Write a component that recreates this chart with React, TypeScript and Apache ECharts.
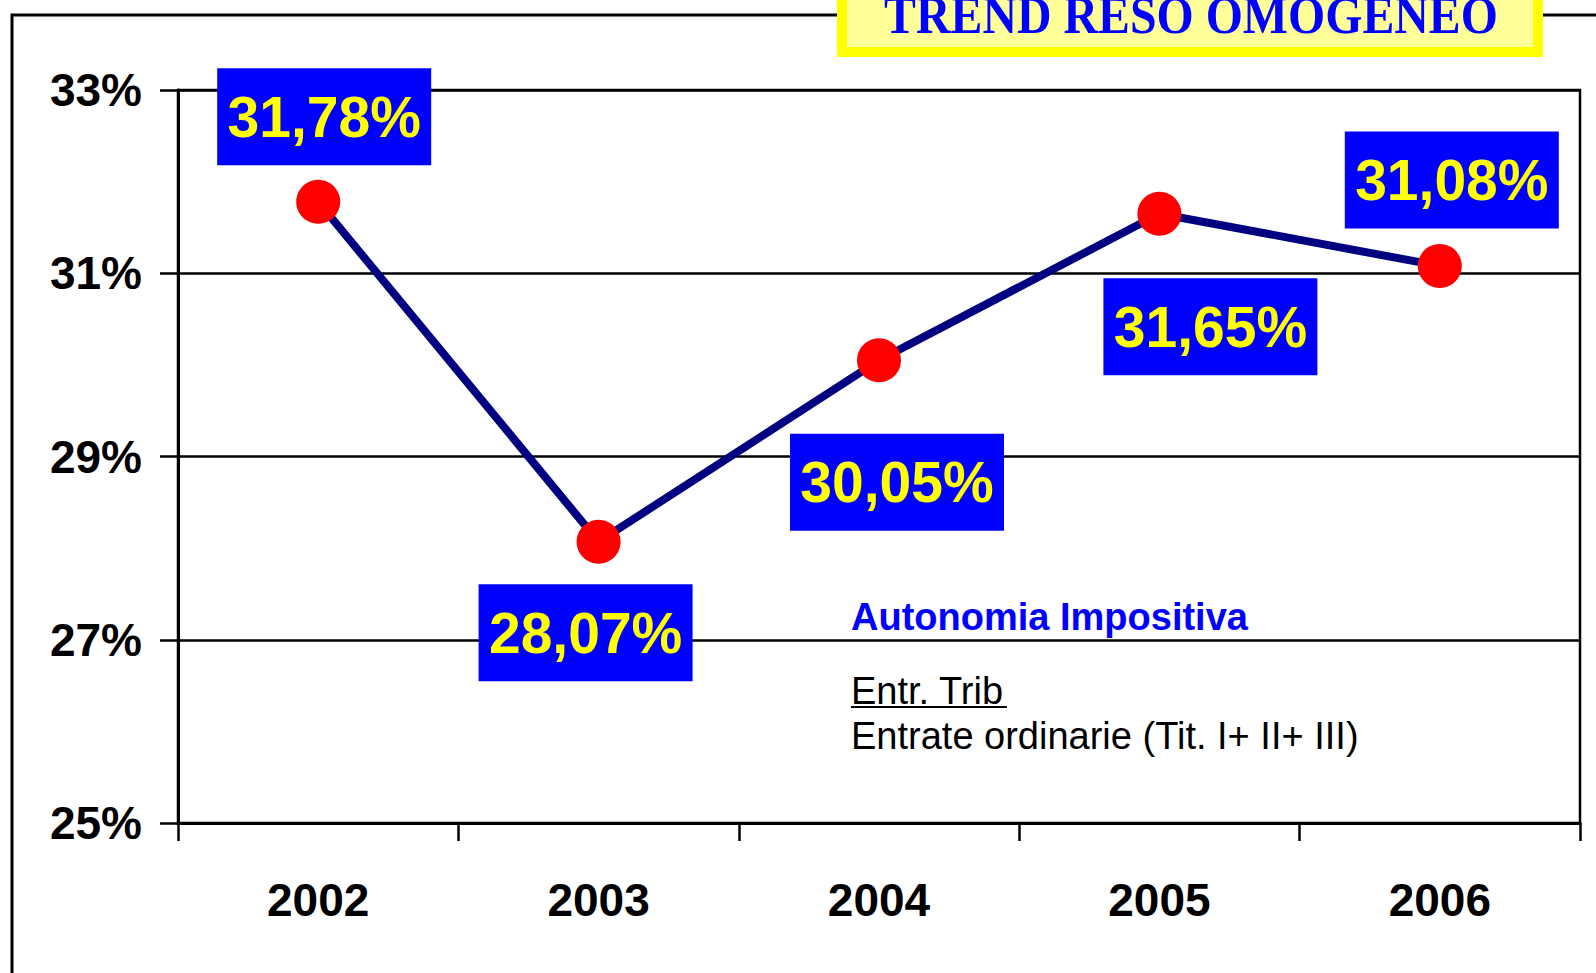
import React, { useEffect, useRef } from "react";
import * as echarts from "echarts";

const years = ["2002", "2003", "2004", "2005", "2006"];
const autonomia = [31.78, 28.07, 30.05, 31.65, 31.08];
const yTickLabels = [25, 27, 29, 31, 33];
const labelOffsets: [number, number][] = [
  [6, -85],
  [-13, 91],
  [18, 122],
  [51, 113],
  [12, -86],
];
const titleText = "TREND RESO OMOGENEO";
const noteTitle = "Autonomia Impositiva";
const noteNumerator = "Entr. Trib";
const noteDenominator = "Entrate ordinarie (Tit. I+ II+ III)";

const SANS = "'Liberation Sans', Arial, Helvetica, sans-serif";
const SERIF = "'Liberation Serif', 'Times New Roman', serif";

export default function App() {
  const ref = useRef<HTMLDivElement>(null);
  useEffect(() => {
    if (!ref.current) return;
    const chart = echarts.init(ref.current, undefined, { renderer: "svg" });
    const option: any = {
      animation: false,
      backgroundColor: "#ffffff",
      grid: {
        left: 178,
        right: 16,
        top: 90,
        bottom: 150,
        show: true,
        borderColor: "#000",
        borderWidth: 2.5,
        backgroundColor: "transparent",
      },
      xAxis: {
        type: "category",
        data: years,
        boundaryGap: true,
        axisLine: { show: true, lineStyle: { color: "#000", width: 3 } },
        axisTick: { show: true, length: 18, inside: false, lineStyle: { color: "#000", width: 2.5 } },
        axisLabel: {
          color: "#000",
          fontFamily: SANS,
          fontWeight: "bold",
          fontSize: 46,
          margin: 54,
        },
        splitLine: { show: false },
      },
      yAxis: [
        {
          type: "value",
          min: 25,
          max: 33,
          interval: 1,
          position: "left",
          axisLine: { show: true, lineStyle: { color: "#000", width: 3 } },
          axisTick: { show: false },
          axisLabel: {
            color: "#000",
            fontFamily: SANS,
            fontWeight: "bold",
            fontSize: 46,
            margin: 36,
            padding: [6, 0, 0, 0],
            formatter: (v: number) =>
              yTickLabels.indexOf(Math.round(v)) >= 0 ? Math.round(v) + "%" : "",
          },
          splitLine: {
            show: true,
            lineStyle: { color: ["#000", "rgba(0,0,0,0)"], width: 2.5 },
          },
        },
        {
          type: "value",
          min: 0,
          max: yTickLabels.length - 1,
          interval: 1,
          position: "left",
          axisLine: { show: false },
          axisTick: { show: true, length: 18, inside: false, lineStyle: { color: "#000", width: 2.5 } },
          axisLabel: { show: false },
          splitLine: { show: false },
        },
      ],
      series: [
        {
          type: "line",
          yAxisIndex: 0,
          data: autonomia.map((v, i) => ({
            value: v,
            label: { offset: labelOffsets[i] },
          })),
          lineStyle: { color: "#000080", width: 8 },
          itemStyle: { color: "#ff0000" },
          symbol: "circle",
          symbolSize: 44,
          showSymbol: true,
          label: {
            show: true,
            position: "inside",
            formatter: (p: any) => p.value.toFixed(2).replace(".", ",") + "%",
            color: "#ffff00",
            backgroundColor: "#0000ff",
            fontFamily: SANS,
            fontWeight: "bold",
            fontSize: 57,
            width: 214,
            height: 97,
            lineHeight: 97,
            align: "center",
            verticalAlign: "middle",
            padding: 0,
          },
          z: 3,
        },
      ],
      graphic: [
        {
          type: "rect",
          shape: { x: 12, y: 15, width: 1700, height: 1200 },
          style: { fill: "none", stroke: "#000", lineWidth: 3 },
          z: 0,
          silent: true,
        },
        {
          type: "rect",
          shape: { x: 842, y: -30, width: 696, height: 82 },
          style: { fill: "#ffff99", stroke: "#ffff00", lineWidth: 10 },
          z: 10,
        },
        {
          type: "text",
          x: 1191,
          y: 41,
          scaleX: 0.92,
          style: {
            text: titleText,
            fill: "#0000ff",
            font: `bold 52px ${SERIF}`,
            align: "center",
            verticalAlign: "bottom",
          },
          z: 11,
        },
        {
          type: "text",
          x: 851,
          y: 617,
          style: {
            text: noteTitle,
            fill: "#0000ff",
            font: `bold 38px ${SANS}`,
            align: "left",
            verticalAlign: "middle",
          },
          z: 10,
        },
        {
          type: "text",
          x: 851,
          y: 691,
          style: {
            text: noteNumerator,
            fill: "#000",
            font: `38px ${SANS}`,
            align: "left",
            verticalAlign: "middle",
          },
          z: 10,
        },
        {
          type: "line",
          shape: { x1: 851, y1: 707, x2: 1007, y2: 707 },
          style: { stroke: "#000", lineWidth: 2 },
          z: 10,
        },
        {
          type: "text",
          x: 851,
          y: 736,
          style: {
            text: noteDenominator,
            fill: "#000",
            font: `38px ${SANS}`,
            align: "left",
            verticalAlign: "middle",
          },
          z: 10,
        },
      ],
    };
    chart.setOption(option);
    return () => chart.dispose();
  }, []);
  return (
    <div
      ref={ref}
      style={{ position: "fixed", left: 0, top: 0, width: 1596, height: 973 }}
    />
  );
}
